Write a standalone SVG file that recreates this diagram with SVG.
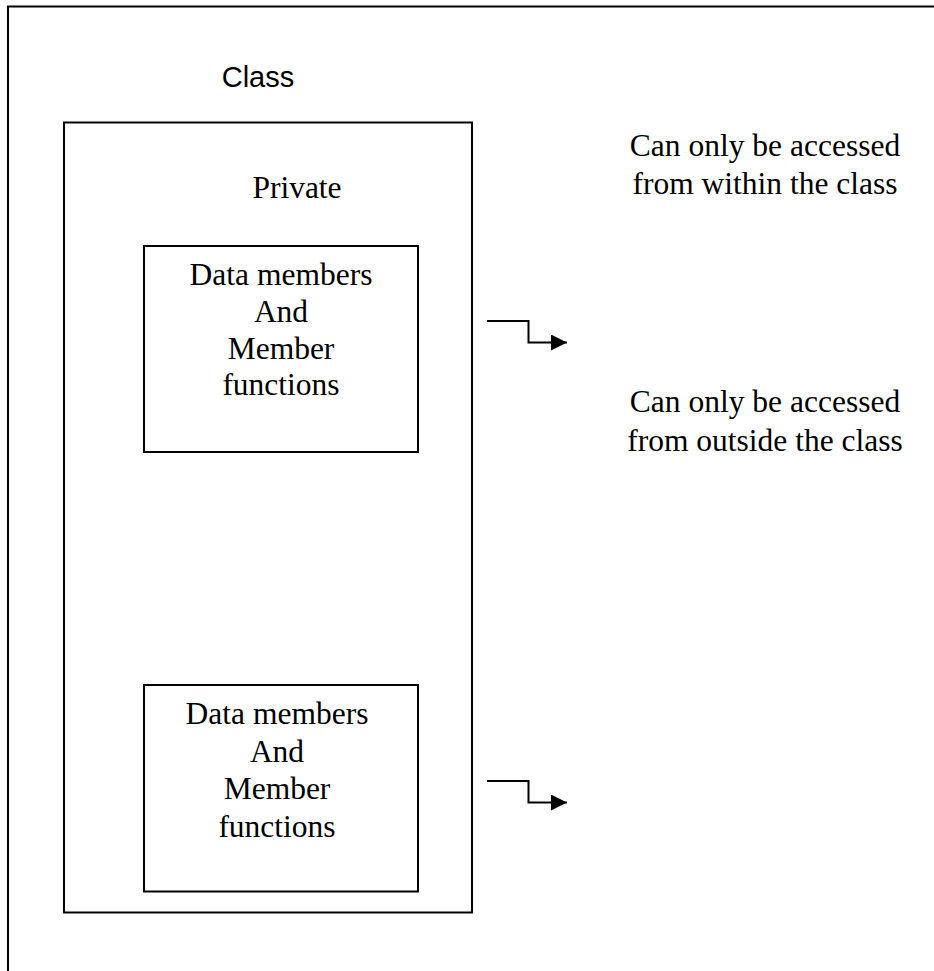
<svg xmlns="http://www.w3.org/2000/svg" width="934" height="971" viewBox="0 0 934 971">
<defs>
<style>
.box{fill:none;stroke:#000;stroke-width:2}
.t{font-family:"Liberation Serif","Times New Roman",serif;font-size:31.5px;fill:#000;text-anchor:middle}
.s{font-family:"Liberation Sans",Arial,sans-serif;font-size:29px;fill:#000;text-anchor:middle}
.con{fill:none;stroke:#000;stroke-width:2}
</style>
<marker id="ah" markerWidth="18" markerHeight="18" refX="16" refY="8" orient="auto" markerUnits="userSpaceOnUse">
<path d="M0,0 L16,8 L0,16 Z" fill="#000"/>
</marker>
</defs>
<rect width="934" height="971" fill="#fff"/>
<g id="frame">
<path d="M8,971 V6.5 H934" fill="none" stroke="#000" stroke-width="2"/>
</g>
<g id="class">
<text class="s" x="258" y="87">Class</text>
<rect class="box" x="64" y="122.5" width="408" height="790"/>
<text class="t" x="297" y="198">Private</text>
</g>
<g id="private-members">
<rect class="box" x="144" y="246" width="274" height="206"/>
<text class="t" x="281" y="285">Data members</text>
<text class="t" x="281" y="322">And</text>
<text class="t" x="281" y="359">Member</text>
<text class="t" x="281" y="395">functions</text>
</g>
<g id="public-members">
<rect class="box" x="144" y="685" width="274" height="206.5"/>
<text class="t" x="277" y="724">Data members</text>
<text class="t" x="277" y="761.5">And</text>
<text class="t" x="277" y="799">Member</text>
<text class="t" x="277" y="836.5">functions</text>
</g>
<g id="note-private">
<text class="t" x="765" y="156">Can only be accessed</text>
<text class="t" x="765" y="194">from within the class</text>
</g>
<g id="note-public">
<text class="t" x="765" y="412">Can only be accessed</text>
<text class="t" x="765" y="451">from outside the class</text>
</g>
<g id="connectors">
<path class="con" d="M487,321 H528.5 V342.5 H567" marker-end="url(#ah)"/>
<path class="con" d="M487,781 H528.5 V802.5 H567" marker-end="url(#ah)"/>
</g>
</svg>
